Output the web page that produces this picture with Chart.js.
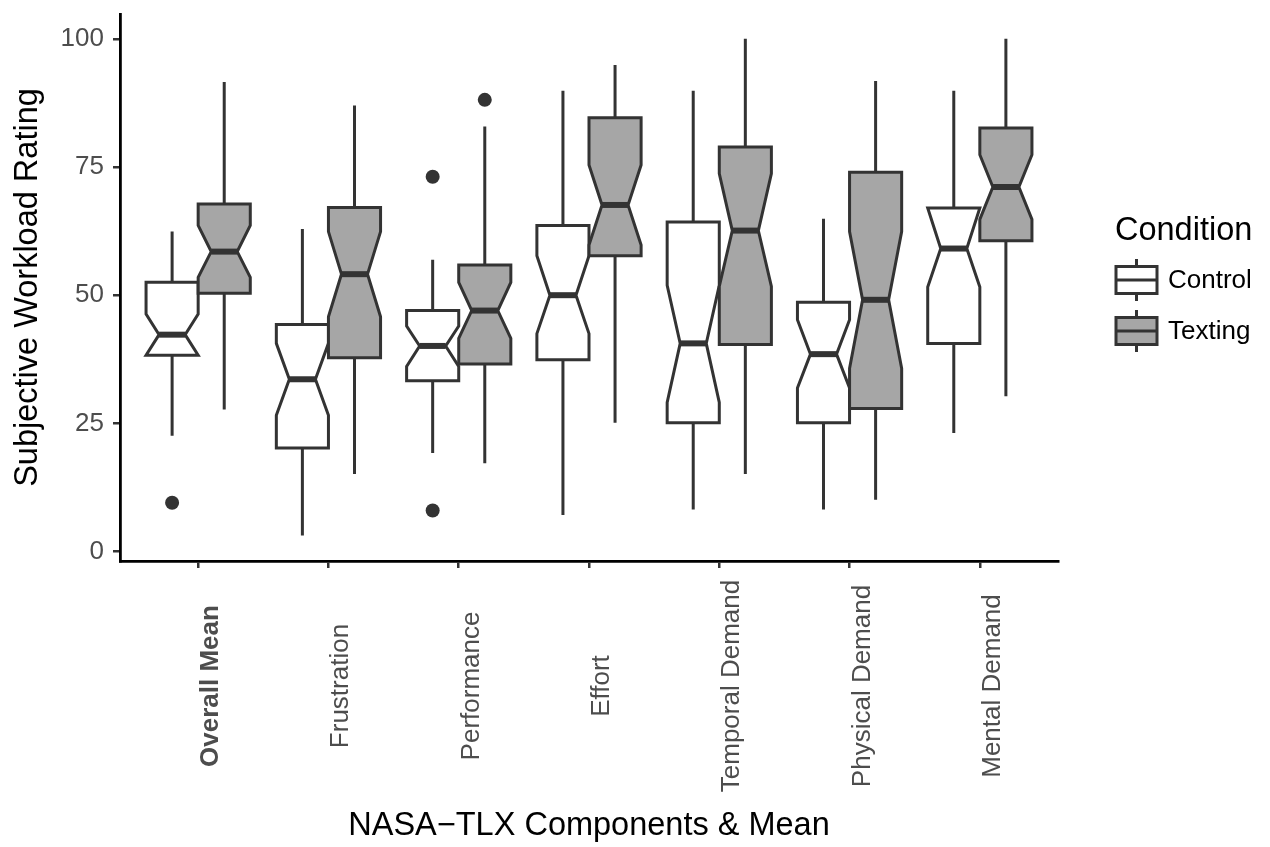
<!DOCTYPE html>
<html>
<head>
<meta charset="utf-8">
<title>NASA-TLX Workload</title>
<script src="https://cdn.jsdelivr.net/npm/chart.js@4.4.1/dist/chart.umd.min.js"></script>
<style>
  body { margin: 0; background: #fff; }
  canvas { display: block; }
</style>
</head>
<body>
<canvas id="tlxChart" width="1270" height="847"></canvas>
<script>
// categories on the x axis
const categories = ["Overall Mean", "Frustration", "Performance", "Effort",
                    "Temporal Demand", "Physical Demand", "Mental Demand"];
const conditions = ["Control", "Texting"];
const yTicks = [0, 25, 50, 75, 100];

// Control boxplot stats
const ctrlLow     = [22.6,  3.1, 19.2,  7.1,  8.2,  8.2, 23.1];
const ctrlQ1      = [38.3, 20.2, 33.3, 37.4, 25.1, 25.1, 40.6];
const ctrlNotchLo = [38.3, 26.6, 36.1, 42.5, 29.1, 31.9, 51.6];
const ctrlMedian  = [42.3, 33.6, 40.1, 50.0, 40.6, 38.5, 59.1];
const ctrlNotchHi = [46.3, 40.6, 44.0, 57.7, 51.9, 45.2, 67.0];
const ctrlQ3      = [52.5, 44.3, 47.0, 63.6, 64.3, 48.6, 67.0];
const ctrlHigh    = [62.4, 62.9, 56.9, 89.9, 89.9, 64.9, 89.9];

// Texting boxplot stats
const textLow     = [27.7, 15.1, 17.2, 25.1, 15.1, 10.1, 30.3];
const textQ1      = [50.4, 37.8, 36.6, 57.7, 40.4, 27.9, 60.6];
const textNotchLo = [53.5, 45.8, 41.6, 59.8, 51.7, 35.7, 64.8];
const textMedian  = [58.5, 54.1, 47.0, 67.6, 62.6, 49.1, 71.1];
const textNotchHi = [63.6, 62.4, 52.5, 75.4, 73.7, 62.4, 77.4];
const textQ3      = [67.8, 67.1, 55.9, 84.6, 78.9, 74.0, 82.6];
const textHigh    = [91.6, 87.0, 82.9, 94.9, 100,  91.8, 100];

// outliers: [category index, value]
const ctrlOutliers = [[0, 9.5], [2, 73.1], [2, 8.0]];
const textOutliers = [[2, 88.1]];

const FONT = "'Liberation Sans', Arial, Helvetica, sans-serif";
const INK = "#333333";
const fills = ["#ffffff", "#a6a6a6"];
const dodge = 0.2;      // half of the dodge width
const boxW = 0.4;       // box width in category units

Chart.defaults.font.family = FONT;

const groups = [
  {low: ctrlLow, q1: ctrlQ1, nlo: ctrlNotchLo, med: ctrlMedian, nhi: ctrlNotchHi, q3: ctrlQ3, high: ctrlHigh, off: -dodge, fill: fills[0]},
  {low: textLow, q1: textQ1, nlo: textNotchLo, med: textMedian, nhi: textNotchHi, q3: textQ3, high: textHigh, off: dodge, fill: fills[1]}
];

// draws the notched boxes from the chart's own scales
const boxPlugin = {
  id: "notchedBoxes",
  beforeDatasetsDraw(chart) {
    const {ctx, scales: {x, y}} = chart;
    const unit = x.getPixelForValue(1) - x.getPixelForValue(0);
    const hw = unit * boxW / 2, nw = hw / 2;
    ctx.save();
    ctx.strokeStyle = INK;
    ctx.lineJoin = "miter";
    categories.forEach((c, i) => {
      groups.forEach(g => {
        const cx = x.getPixelForValue(i + g.off);
        const Y = v => y.getPixelForValue(v);
        // whiskers
        ctx.lineWidth = 3;
        ctx.beginPath();
        ctx.moveTo(cx, Y(g.q3[i])); ctx.lineTo(cx, Y(g.high[i]));
        ctx.moveTo(cx, Y(g.q1[i])); ctx.lineTo(cx, Y(g.low[i]));
        ctx.stroke();
        // notched box
        ctx.beginPath();
        ctx.moveTo(cx - hw, Y(g.q3[i]));
        ctx.lineTo(cx - hw, Y(g.nhi[i]));
        ctx.lineTo(cx - nw, Y(g.med[i]));
        ctx.lineTo(cx - hw, Y(g.nlo[i]));
        ctx.lineTo(cx - hw, Y(g.q1[i]));
        ctx.lineTo(cx + hw, Y(g.q1[i]));
        ctx.lineTo(cx + hw, Y(g.nlo[i]));
        ctx.lineTo(cx + nw, Y(g.med[i]));
        ctx.lineTo(cx + hw, Y(g.nhi[i]));
        ctx.lineTo(cx + hw, Y(g.q3[i]));
        ctx.closePath();
        ctx.fillStyle = g.fill;
        ctx.fill();
        ctx.stroke();
        // median
        ctx.lineWidth = 6;
        ctx.beginPath();
        ctx.moveTo(cx - nw, Y(g.med[i])); ctx.lineTo(cx + nw, Y(g.med[i]));
        ctx.stroke();
      });
    });
    ctx.restore();
  },
  afterDraw(chart) {
    const {ctx, chartArea, scales: {x}} = chart;
    ctx.save();
    // x tick labels, rotated and centred
    ctx.fillStyle = "#4d4d4d";
    ctx.textAlign = "center";
    ctx.textBaseline = "alphabetic";
    categories.forEach((c, i) => {
      const px = x.getPixelForValue(i);
      ctx.save();
      ctx.translate(px, 686);
      ctx.rotate(-Math.PI / 2);
      ctx.font = (i === 0 ? "bold " : "") + "26px " + FONT;
      ctx.fillText(c, 0, 20);
      ctx.restore();
    });
    // legend
    const lx = chartArea.right + 57;
    ctx.fillStyle = "#000";
    ctx.textAlign = "left";
    ctx.textBaseline = "middle";
    ctx.font = "32.5px " + FONT;
    ctx.fillText("Condition", lx, 231);
    const keyCy = [280, 331];
    conditions.forEach((name, k) => {
      const cy = keyCy[k], kx = lx + 1, kw = 41, kh = 27;
      ctx.strokeStyle = INK;
      ctx.lineWidth = 3;
      ctx.beginPath();
      ctx.moveTo(kx + kw / 2, cy - 21); ctx.lineTo(kx + kw / 2, cy + 21);
      ctx.stroke();
      ctx.fillStyle = fills[k];
      ctx.fillRect(kx, cy - kh / 2, kw, kh);
      ctx.strokeRect(kx, cy - kh / 2, kw, kh);
      ctx.beginPath();
      ctx.moveTo(kx, cy); ctx.lineTo(kx + kw, cy);
      ctx.stroke();
      ctx.fillStyle = "#000";
      ctx.font = "26px " + FONT;
      ctx.fillText(name, lx + 53, cy + 1);
    });
    ctx.restore();
  }
};

const pointStyle = {pointRadius: 7, pointHoverRadius: 7, pointBackgroundColor: INK, pointBorderWidth: 0, showLine: false};

new Chart(document.getElementById("tlxChart"), {
  type: "scatter",
  data: {
    datasets: [
      Object.assign({label: "Control", data: ctrlOutliers.map(o => ({x: o[0] - dodge, y: o[1]}))}, pointStyle),
      Object.assign({label: "Texting", data: textOutliers.map(o => ({x: o[0] + dodge, y: o[1]}))}, pointStyle)
    ]
  },
  options: {
    responsive: false,
    animation: false,
    layout: {padding: {top: 14, right: 212, bottom: 0, left: 0}},
    plugins: {legend: {display: false}, tooltip: {enabled: false}},
    scales: {
      x: {
        type: "linear",
        min: -0.6,
        max: 6.6,
        afterBuildTicks: s => { s.ticks = categories.map((c, i) => ({value: i})); },
        afterFit: s => { s.height = 286; s.paddingLeft = 0; s.paddingRight = 0; },
        ticks: {display: false},
        grid: {drawOnChartArea: false, tickLength: 7, color: INK, lineWidth: 2.5},
        border: {color: "#000", width: 2.8},
        title: {display: true, text: "NASA\u2212TLX Components & Mean", color: "#000",
                font: {size: 32.5}, padding: {top: 0, bottom: 1.5}}
      },
      y: {
        min: -1.85,
        max: 104.85,
        afterBuildTicks: s => { s.ticks = yTicks.map(v => ({value: v})); },
        afterFit: s => { s.width = 120; s.paddingTop = 0; s.paddingBottom = 0; },
        ticks: {color: "#4d4d4d", font: {size: 26}, padding: 9},
        grid: {drawOnChartArea: false, tickLength: 7, color: INK, lineWidth: 2.5},
        border: {color: "#000", width: 2.8},
        title: {display: true, text: "Subjective Workload Rating", color: "#000",
                font: {size: 32.5}, padding: {top: 8.5, bottom: 0}}
      }
    }
  },
  plugins: [boxPlugin]
});
</script>
</body>
</html>
